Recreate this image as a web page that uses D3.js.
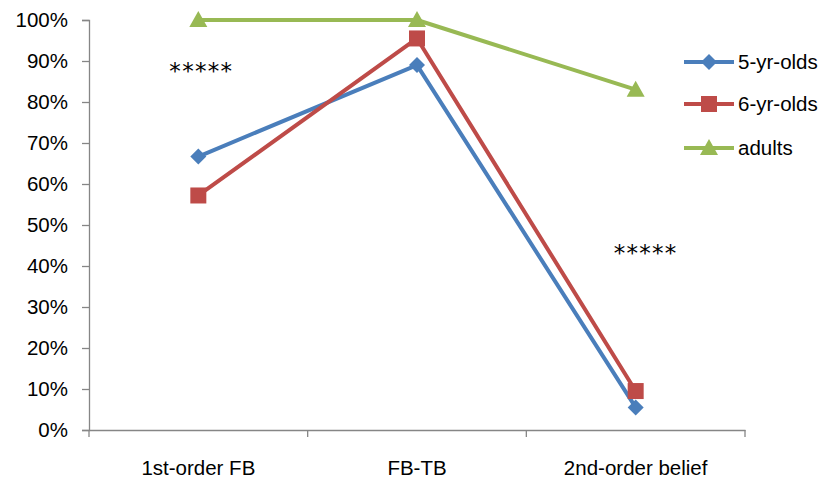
<!DOCTYPE html>
<html><head><meta charset="utf-8">
<script src="https://cdn.jsdelivr.net/npm/d3@7"></script>
<style>body{margin:0;background:#fff}svg{display:block}text{font-family:"Liberation Sans",Arial,sans-serif;fill:#000}</style>
</head><body><svg id="c" width="827" height="480"></svg>
<script>
const categories = ["1st-order FB", "FB-TB", "2nd-order belief"];
const fiveYr = [0.667, 0.89, 0.055];
const sixYr = [0.572, 0.955, 0.095];
const adults = [1.0, 1.0, 0.83];
const seriesNames = ["5-yr-olds", "6-yr-olds", "adults"];
const yTicks = [0,0.1,0.2,0.3,0.4,0.5,0.6,0.7,0.8,0.9,1.0];
const annotationText = ["*****", "*****"];
const annotationCats = ["1st-order FB", "2nd-order belief"];

const series = [
  {name: seriesNames[0], values: fiveYr, color:"#4a7ebb", shape:"diamond"},
  {name: seriesNames[1], values: sixYr, color:"#be4b48", shape:"square"},
  {name: seriesNames[2], values: adults, color:"#98b954", shape:"triangle"}
];

const svg = d3.select("#c");
const L=89, R=745, T=20, B=430;
const x = d3.scaleBand().domain(categories).range([L,R]);
const y = d3.scaleLinear().domain([0,1]).range([B,T]);
const axisColor = "#868686";
const font = '"Liberation Sans",Arial,sans-serif';

// y axis
const ya = svg.append("g").attr("transform",`translate(${L},0)`)
  .call(d3.axisLeft(y).tickValues(yTicks).tickFormat(d3.format(".0%")).tickSize(7).tickPadding(14));
ya.select(".domain").attr("stroke",axisColor).attr("stroke-width",1.3);
ya.selectAll(".tick line").attr("stroke",axisColor).attr("stroke-width",1.3);
ya.selectAll(".tick text").attr("font-size",20.5).style("font-family",font).attr("fill","#000");

// x axis
const xa = svg.append("g").attr("transform",`translate(0,${B})`)
  .call(d3.axisBottom(x).tickSize(0).tickSizeOuter(0).tickPadding(30));
xa.select(".domain").attr("stroke",axisColor).attr("stroke-width",1.3);
xa.selectAll(".tick text").attr("font-size",20.5).style("font-family",font).attr("fill","#000");
const bounds = categories.map(c=>x(c)).concat([R]);
xa.selectAll("line.bt").data(bounds).enter().append("line").attr("class","bt")
  .attr("x1",d=>d).attr("x2",d=>d).attr("y1",0).attr("y2",7)
  .attr("stroke",axisColor).attr("stroke-width",1.3);

const cx = c => x(c) + x.bandwidth()/2;
const line = d3.line().x((d,i)=>cx(categories[i])).y(d=>y(d));

function marker(g, shape, color){
  if(shape==="diamond") g.append("path").attr("d","M0,-8L8,0L0,8L-8,0Z").attr("fill",color);
  else if(shape==="square") g.append("rect").attr("x",-8).attr("y",-8).attr("width",16).attr("height",16).attr("fill",color);
  else g.append("path").attr("d","M0,-9L9,7L-9,7Z").attr("fill",color);
}

series.forEach(s=>{
  svg.append("path").datum(s.values).attr("d",line).attr("fill","none")
    .attr("stroke",s.color).attr("stroke-width",4).attr("stroke-linejoin","round");
});
series.forEach(s=>{
  s.values.forEach((v,i)=>{
    const g = svg.append("g").attr("transform",`translate(${cx(categories[i])},${y(v)})`);
    marker(g, s.shape, s.color);
  });
});

// annotations (significance stars)
const annPos = [{dx:3, yv:0.89},{dx:10, yv:0.445}];
annotationText.forEach((t,i)=>{
  svg.append("text").attr("x",cx(annotationCats[i])+annPos[i].dx).attr("y",y(annPos[i].yv)+13.5)
    .attr("text-anchor","middle").style("font-family",'"DejaVu Sans",sans-serif')
    .attr("font-size",23).attr("letter-spacing",1.3).attr("fill","#222").text(t);
});

// legend
const legY = [62,104,148];
series.forEach((s,i)=>{
  const g = svg.append("g").attr("transform",`translate(0,${legY[i]})`);
  g.append("line").attr("x1",684).attr("x2",734).attr("y1",0).attr("y2",0).attr("stroke",s.color).attr("stroke-width",4);
  const m = g.append("g").attr("transform","translate(709,0)");
  marker(m, s.shape, s.color);
  g.append("text").attr("x",738).attr("y",7).attr("font-size",20.5).text(s.name);
});
</script></body></html>
